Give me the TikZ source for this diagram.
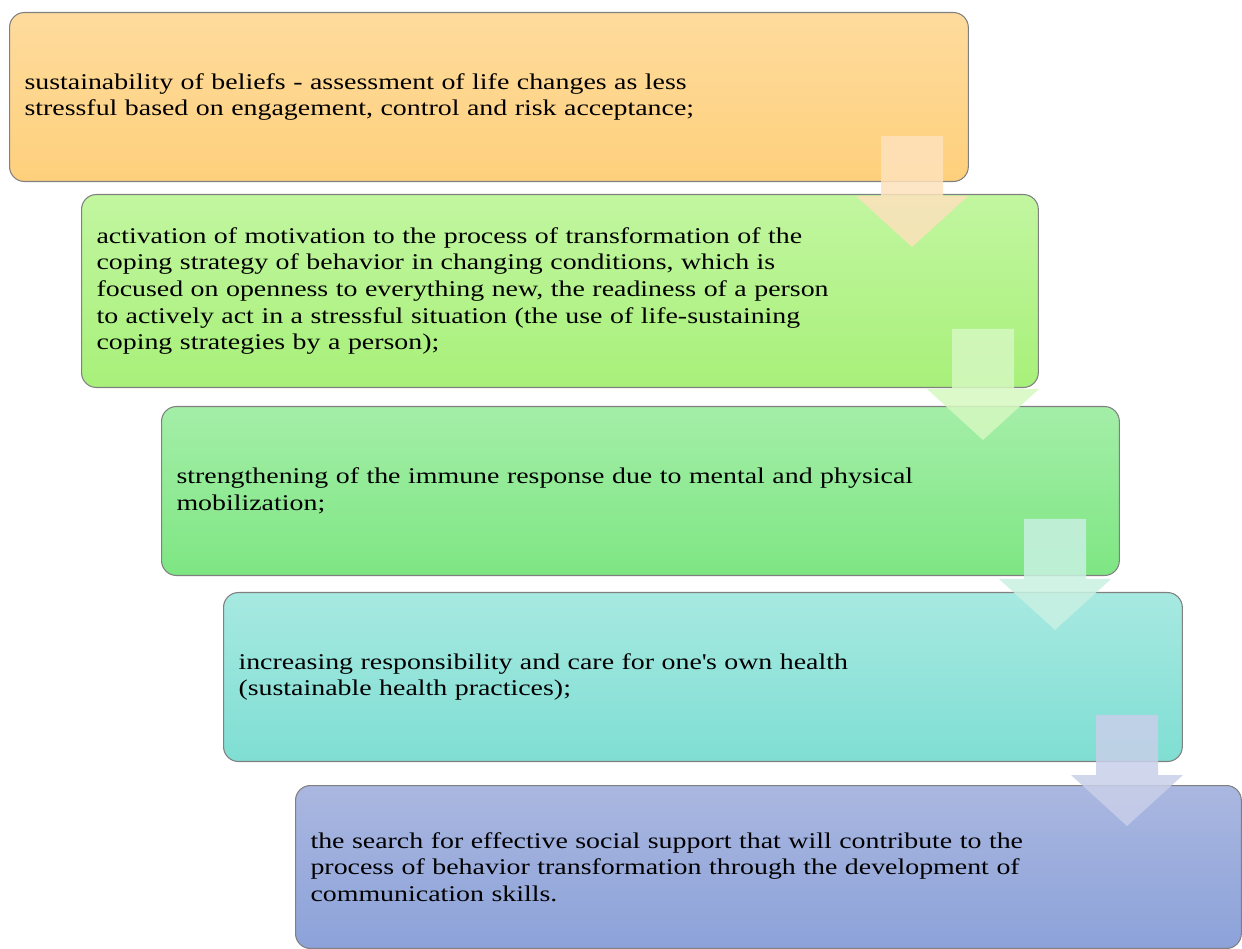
\documentclass[tikz,border=0pt]{standalone}
\usepackage{fontspec}
\setmainfont{Liberation Serif}[FakeStretch=1.24]
\usetikzlibrary{positioning}

\definecolor{orangeTop}{HTML}{FEDB9D}
\definecolor{orangeBot}{HTML}{FED07C}
\definecolor{limeTop}{HTML}{C2F6A0}
\definecolor{limeBot}{HTML}{A8F07A}
\definecolor{greenTop}{HTML}{A4EEA8}
\definecolor{greenBot}{HTML}{7EE683}
\definecolor{tealTop}{HTML}{A7E9E1}
\definecolor{tealBot}{HTML}{7FDED3}
\definecolor{blueTop}{HTML}{AAB7E0}
\definecolor{blueBot}{HTML}{8CA2D9}
\definecolor{arrA}{HTML}{FDE2BC}
\definecolor{arrB}{HTML}{D5F8C0}
\definecolor{arrC}{HTML}{C8F1E2}
\definecolor{arrD}{HTML}{C8CFE9}

\tikzset{
  stepbox/.style={draw=black!50, line width=0.6pt, rounded corners=8.5pt,
    anchor=north west, inner xsep=0.3cm, inner ysep=0pt, align=left,
    font=\fontsize{12.8}{15.1}\selectfont},
  downarrow/.style={fill opacity=0.85}
}

\begin{document}
\begin{tikzpicture}[x=0.02cm,y=-0.02cm]
  \useasboundingbox (0,0) rectangle (1242,949);

  \node[stepbox, top color=orangeTop, bottom color=orangeBot,
        text width=18.58cm, minimum height=3.38cm] (b) at (9,12)
    {sustainability of beliefs - assessment of life changes as less\\
     stressful based on engagement, control and risk acceptance;};
  \node[stepbox, top color=limeTop, bottom color=limeBot,
        text width=18.54cm, minimum height=3.86cm] (m) at (81,194)
    {activation of motivation to the process of transformation of the\\
     coping strategy of behavior in changing conditions, which is\\
     focused on openness to everything new, the readiness of a person\\
     to actively act in a stressful situation (the use of life-sustaining\\
     coping strategies by a person);};
  \node[stepbox, top color=greenTop, bottom color=greenBot,
        text width=18.56cm, minimum height=3.38cm] (i) at (161,406)
    {strengthening of the immune response due to mental and physical\\
     mobilization;};
  \node[stepbox, top color=tealTop, bottom color=tealBot,
        text width=18.58cm, minimum height=3.38cm] (r) at (223,592)
    {increasing responsibility and care for one\textquotesingle s own health\\
     (sustainable health practices);};
  \node[stepbox, top color=blueTop, bottom color=blueBot,
        text width=18.32cm, minimum height=3.26cm] (s) at (295,785)
    {the search for effective social support that will contribute to the\\
     process of behavior transformation through the development of\\
     communication skills.};

  % block arrows between the steps
  \foreach \x/\y/\c in {912/136/arrA, 983/329/arrB, 1055/519/arrC, 1127/715/arrD}
    \fill[downarrow, \c] (\x-31,\y) -- (\x+31,\y) -- (\x+31,\y+60) -- (\x+56,\y+60)
      -- (\x,\y+111) -- (\x-56,\y+60) -- (\x-31,\y+60) -- cycle;

\end{tikzpicture}
\end{document}
